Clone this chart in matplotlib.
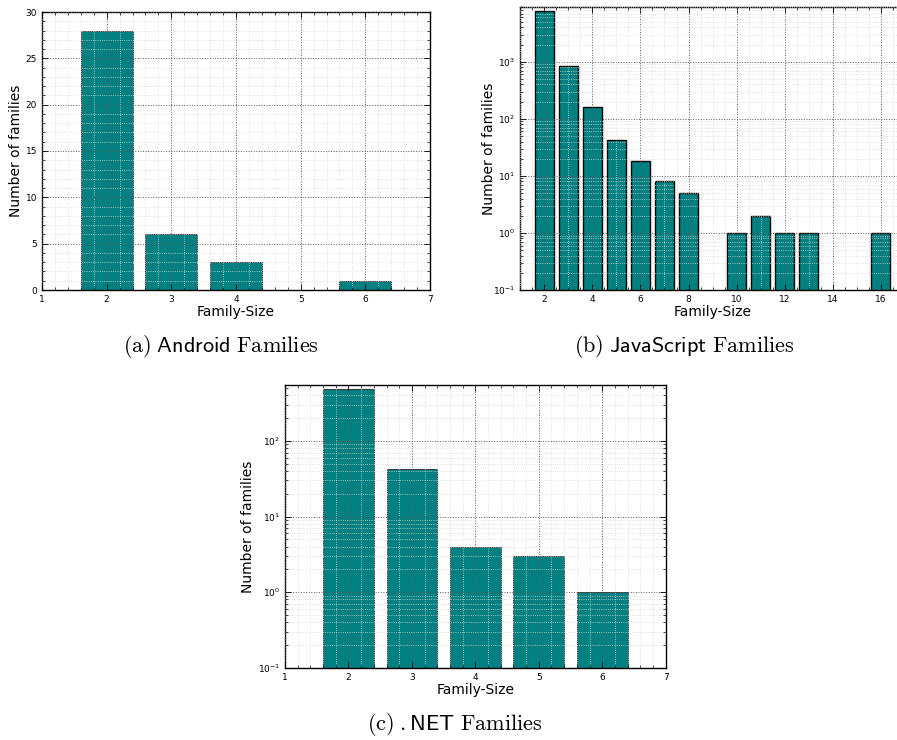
import matplotlib
matplotlib.use("Agg")
import matplotlib.pyplot as plt
from matplotlib.ticker import AutoMinorLocator, LogLocator, MultipleLocator

# data
android_sizes = [2, 3, 4, 6]
android_counts = [28, 6, 3, 1]

js_sizes = [2, 3, 4, 5, 6, 7, 8, 10, 11, 12, 13, 16]
js_counts = [7800, 850, 164, 43, 18, 8, 5, 1, 2, 1, 1, 1]

net_sizes = [2, 3, 4, 5, 6]
net_counts = [480, 43, 4, 3, 1]

captions = [
    r"$\mathrm{(a)}\;\mathsf{Android}\ \mathrm{Families}$",
    r"$\mathrm{(b)}\;\mathsf{JavaScript}\ \mathrm{Families}$",
    r"$\mathrm{(c)}\;\mathsf{.NET}\ \mathrm{Families}$",
]

BAR = "#008080"
W, H = 897, 740


def box(left, right, top, bottom):
    """pixel box -> figure fraction rect"""
    return [left / W, 1 - bottom / H, (right - left) / W, (bottom - top) / H]


def style(ax, log=False, ypad=2):
    ax.tick_params(which="both", direction="in", top=True, right=True, labelsize=6.5)
    ax.tick_params(which="major", length=4, width=0.6)
    ax.tick_params(which="minor", length=2, width=0.5)
    ax.xaxis.set_minor_locator(AutoMinorLocator())
    if log:
        ax.yaxis.set_minor_locator(LogLocator(base=10, subs=range(2, 10)))
    else:
        ax.yaxis.set_minor_locator(AutoMinorLocator())
    ax.grid(which="major", color="0.35", linestyle=":", linewidth=0.7)
    ax.grid(which="minor", color="0.85", linestyle=":", linewidth=0.6)
    ax.set_axisbelow(False)
    for sp in ax.spines.values():
        sp.set_linewidth(1.0)
    ax.set_xlabel("Family-Size", fontsize=10, labelpad=1)
    ax.set_ylabel("Number of families", fontsize=10, labelpad=ypad)


fig = plt.figure(figsize=(W / 100, H / 100), dpi=100)

# (a) Android
ax1 = fig.add_axes(box(42, 430, 12, 290))
ax1.bar(android_sizes, android_counts, width=0.8, color=BAR, edgecolor="0.15", linewidth=0.6)
ax1.set_xlim(1, 7)
ax1.set_ylim(0, 30)
ax1.xaxis.set_major_locator(MultipleLocator(1))
ax1.yaxis.set_major_locator(MultipleLocator(5))
style(ax1)

# (b) JavaScript
ax2 = fig.add_axes(box(520.3, 904.8, 7, 290))
ax2.bar(js_sizes, js_counts, width=0.8, color=BAR, edgecolor="black", linewidth=1.0)
ax2.set_yscale("log")
ax2.set_xlim(1, 17)
ax2.set_ylim(0.1, 9100)
ax2.xaxis.set_major_locator(MultipleLocator(2))
style(ax2, log=True, ypad=-2)

# (c) .NET
ax3 = fig.add_axes(box(285, 665.7, 385, 667.7))
ax3.bar(net_sizes, net_counts, width=0.8, color=BAR, edgecolor="0.15", linewidth=0.6)
ax3.set_yscale("log")
ax3.set_xlim(1, 7)
ax3.set_ylim(0.1, 550)
ax3.xaxis.set_major_locator(MultipleLocator(1))
style(ax3, log=True)

fig.text(221 / W, 1 - 347 / H, captions[0], fontsize=16, ha="center", va="center", math_fontfamily="cm")
fig.text(684 / W, 1 - 347 / H, captions[1], fontsize=16, ha="center", va="center", math_fontfamily="cm")
fig.text(455 / W, 1 - 725 / H, captions[2], fontsize=16, ha="center", va="center", math_fontfamily="cm")

fig.savefig("out.png", dpi=100)
